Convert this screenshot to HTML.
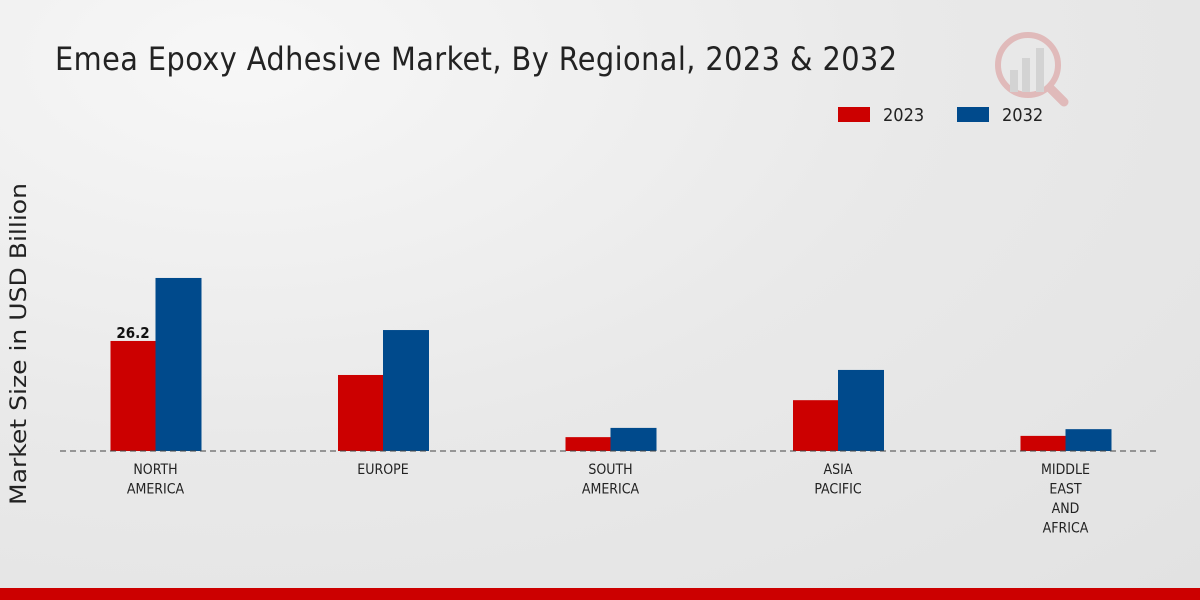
<!DOCTYPE html>
<html><head><meta charset="utf-8"><style>
body{margin:0;width:1200px;height:600px;overflow:hidden;font-family:"DejaVu Sans Condensed","DejaVu Sans","Liberation Sans",sans-serif;}
#bg{position:absolute;left:0;top:0;width:1200px;height:600px;background:radial-gradient(ellipse at 20% 10%,#f7f7f7 0%,#e9e9e9 50%,#e2e2e2 100%);}
</style></head><body>
<div id="bg"></div>
<svg id="c" width="1200" height="600" style="position:absolute;left:0;top:0">
<text x="55" y="70" font-size="32" fill="#222" textLength="842">Emea Epoxy Adhesive Market, By Regional, 2023 &amp; 2032</text>
<text transform="translate(26,344) rotate(-90)" text-anchor="middle" font-size="22" font-family="DejaVu Sans, sans-serif" fill="#222" textLength="322" lengthAdjust="spacingAndGlyphs">Market Size in USD Billion</text>
<g>
<rect x="838" y="107" width="32" height="15" fill="#cc0000"/>
<text x="883" y="121" font-size="18" fill="#222">2023</text>
<rect x="957" y="107" width="32" height="15" fill="#004a8c"/>
<text x="1002" y="121" font-size="18" fill="#222">2032</text>
</g>
<g opacity="0.25">
<circle cx="1028" cy="65" r="30" fill="none" stroke="#c33" stroke-width="6"/>
<line x1="1050" y1="88" x2="1064" y2="102" stroke="#c33" stroke-width="9" stroke-linecap="round"/>
<rect x="1010" y="70" width="8" height="22" fill="#999"/><rect x="1022" y="58" width="8" height="34" fill="#999"/><rect x="1036" y="48" width="8" height="44" fill="#999"/>
</g>
<rect x="0" y="588" width="1200" height="12" fill="#cc0000"/>
<g id="plot"></g>
</svg>
<script>
const categories=[["NORTH","AMERICA"],["EUROPE"],["SOUTH","AMERICA"],["ASIA","PACIFIC"],["MIDDLE","EAST","AND","AFRICA"]];
const values2023=[26.2,18.1,3.3,12.1,3.6];
const values2032=[41.2,28.8,5.5,19.3,5.2];
const shownLabels=[0];
const base=451, scale=4.2, x0=155.5, step=227.5, bw=45;
const y=v=>base-v*scale;
const g=document.getElementById('plot');
const ns='http://www.w3.org/2000/svg';
function mk(t,a){const e=document.createElementNS(ns,t);for(const k in a)e.setAttribute(k,a[k]);g.appendChild(e);return e;}
categories.forEach((c,i)=>{
 const cx=x0+i*step;
 const r1=mk('rect',{x:cx-bw,y:y(values2023[i]),width:bw,height:values2023[i]*scale,fill:'#cc0000'});
 
 
 const r2=mk('rect',{x:cx,y:y(values2032[i]),width:bw+1,height:values2032[i]*scale,fill:'#004a8c'});
 
 
 c.forEach((ln,j)=>{
  const t=mk('text',{x:cx,y:474+j*19.5,'text-anchor':'middle','font-size':14,fill:'#222'});
  t.textContent=ln;
  
  
 });
 if(shownLabels.includes(i)){
  const t=mk('text',{x:cx-bw/2,y:y(values2023[i])-3,'text-anchor':'middle','font-size':15,'font-weight':'bold',fill:'#111'});
  t.textContent=values2023[i];
  
  
 }
});
const ax=mk('line',{x1:60,x2:1160,y1:base,y2:base,stroke:'#444','stroke-dasharray':'6,4','stroke-width':1});


</script>
</body></html>
